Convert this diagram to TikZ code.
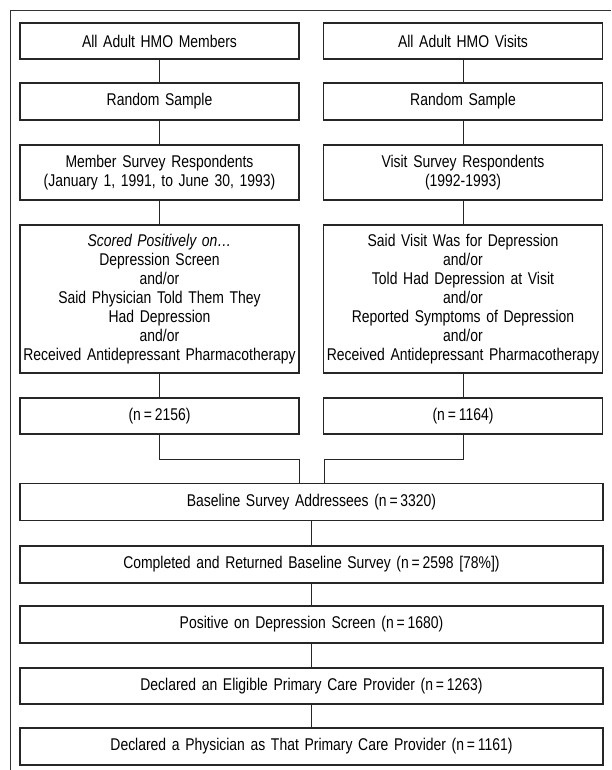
\documentclass[tikz,border=0pt]{standalone}
\usepackage{fontspec}
\setmainfont[FakeStretch=0.82]{Liberation Sans}
\begin{document}
\begin{tikzpicture}[x=1pt,y=-1pt,
  box/.style={draw=black!85,line width=1.1pt,inner sep=0pt,align=center,
    font=\fontsize{17}{19}\selectfont},
  colbox/.style={box,minimum width=279pt,text width=279pt},
  widebox/.style={box,minimum width=583pt,text width=583pt,minimum height=37pt},
  link/.style={draw=black!85,line width=1pt}]
\useasboundingbox (0,0) rectangle (611,770);
\draw[draw=black!80,line width=1pt] (10,770) -- (10,11) -- (611,11);
% left column
\node[colbox,minimum height=36pt] (L1) at (159.5,41) {All Adult HMO Members};
\node[colbox,minimum height=37pt] (L2) at (159.5,101.5) {Random Sample};
\node[colbox,minimum height=55pt] (L3) at (159.5,172.5) {Member Survey Respondents\\(January 1, 1991, to June 30, 1993)};
\node[colbox,minimum height=148pt] (L4) at (159.5,299) {\textit{Scored Positively on…}\\Depression Screen\\and/or\\Said Physician Told Them They\\Had Depression\\and/or\\Received Antidepressant Pharmacotherapy};
\node[colbox,minimum height=36pt] (L5) at (159.5,416) {(n\,=\,2156)};
% right column
\node[colbox,minimum height=36pt] (R1) at (463,41) {All Adult HMO Visits};
\node[colbox,minimum height=37pt] (R2) at (463,101.5) {Random Sample};
\node[colbox,minimum height=55pt] (R3) at (463,172.5) {Visit Survey Respondents\\(1992-1993)};
\node[colbox,minimum height=148pt] (R4) at (463,299) {Said Visit Was for Depression\\and/or\\Told Had Depression at Visit\\and/or\\Reported Symptoms of Depression\\and/or\\Received Antidepressant Pharmacotherapy};
\node[colbox,minimum height=36pt] (R5) at (463,416) {(n\,=\,1164)};
% common
\node[widebox] (B1) at (311.5,502) {Baseline Survey Addressees (n\,=\,3320)};
\node[widebox] (B2) at (311.5,564.5) {Completed and Returned Baseline Survey (n\,=\,2598 [78\%])};
\node[widebox] (B3) at (311.5,624.5) {Positive on Depression Screen (n\,=\,1680)};
\node[widebox,minimum height=36pt] (B4) at (311.5,686) {Declared an Eligible Primary Care Provider (n\,=\,1263)};
\node[widebox] (B5) at (311.5,746.5) {Declared a Physician as That Primary Care Provider (n\,=\,1161)};
% connectors
\foreach \a/\b in {L1/L2,L2/L3,L3/L4,L4/L5,R1/R2,R2/R3,R3/R4,R4/R5,B1/B2,B2/B3,B3/B4,B4/B5}
  \draw[link] (\a.south) -- (\b.north);
\coordinate (jl) at (299,459);
\coordinate (jr) at (324,459);
\draw[link] (L5.south) |- (jl) -- (jl |- B1.north);
\draw[link] (R5.south) |- (jr) -- (jr |- B1.north);
\end{tikzpicture}
\end{document}
